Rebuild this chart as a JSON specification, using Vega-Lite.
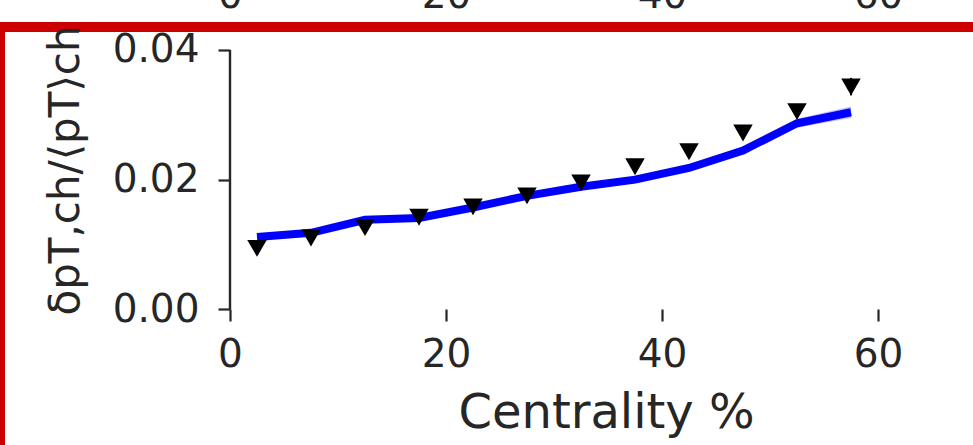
{
  "$schema": "https://vega.github.io/schema/vega-lite/v6.json",
  "width": 980,
  "height": 425,
  "autosize": {"type": "none"},
  "padding": {"left": 0, "top": 27, "right": -7, "bottom": -7},
  "background": "white",
  "config": {
    "view": {"stroke": "#cc0000", "strokeWidth": 10, "fill": "white"},
    "font": "DejaVu Sans",
    "axis": {
      "labelFont": "DejaVu Sans",
      "titleFont": "DejaVu Sans",
      "labelColor": "#262626",
      "titleColor": "#262626",
      "tickColor": "#262626",
      "titleFontWeight": "normal",
      "grid": false,
      "domain": false,
      "labelFlush": false,
      "labelOverlap": false
    }
  },
  "resolve": {"axis": {"x": "independent"}},
  "layer": [
    {
      "data": {
        "values": [
          {"cent": 2.5, "marker": 0.0094, "mlo": 0.0090, "mhi": 0.0098, "model": 0.01115, "lo": 0.01075, "hi": 0.01155},
          {"cent": 7.5, "marker": 0.0110, "mlo": 0.0106, "mhi": 0.0114, "model": 0.0118, "lo": 0.0114, "hi": 0.0122},
          {"cent": 12.5, "marker": 0.0126, "mlo": 0.0122, "mhi": 0.0130, "model": 0.0138, "lo": 0.0134, "hi": 0.0142},
          {"cent": 17.5, "marker": 0.0142, "mlo": 0.0138, "mhi": 0.0146, "model": 0.0141, "lo": 0.0137, "hi": 0.0145},
          {"cent": 22.5, "marker": 0.0158, "mlo": 0.0154, "mhi": 0.0162, "model": 0.0157, "lo": 0.0153, "hi": 0.0161},
          {"cent": 27.5, "marker": 0.0175, "mlo": 0.0171, "mhi": 0.0179, "model": 0.0175, "lo": 0.0171, "hi": 0.0179},
          {"cent": 32.5, "marker": 0.0195, "mlo": 0.0191, "mhi": 0.0199, "model": 0.0189, "lo": 0.0185, "hi": 0.0193},
          {"cent": 37.5, "marker": 0.0220, "mlo": 0.0215, "mhi": 0.0225, "model": 0.0200, "lo": 0.0195, "hi": 0.0205},
          {"cent": 42.5, "marker": 0.0243, "mlo": 0.0238, "mhi": 0.0248, "model": 0.0218, "lo": 0.0213, "hi": 0.0223},
          {"cent": 47.5, "marker": 0.0272, "mlo": 0.0266, "mhi": 0.0278, "model": 0.0245, "lo": 0.0239, "hi": 0.0251},
          {"cent": 52.5, "marker": 0.0305, "mlo": 0.0298, "mhi": 0.0312, "model": 0.0287, "lo": 0.0280, "hi": 0.0294},
          {"cent": 57.5, "marker": 0.0343, "mlo": 0.0330, "mhi": 0.0357, "model": 0.0304, "lo": 0.0295, "hi": 0.0313}
        ]
      },
      "encoding": {
        "x": {
          "field": "cent",
          "type": "quantitative",
          "scale": {"domain": [-21.296, 69.444], "nice": false, "zero": false},
          "axis": {
            "orient": "bottom",
            "offset": -143,
            "values": [0, 20, 40, 60],
            "format": "d",
            "title": "Centrality %",
            "tickSize": 12,
            "tickWidth": 2.2,
            "labelFontSize": 39,
            "labelPadding": 14,
            "titleFontSize": 48,
            "titleX": 606,
            "titleY": 118,
            "titleBaseline": "alphabetic",
            "titleAlign": "center",
            "titleAnchor": null
          }
        }
      },
      "layer": [
        {
          "mark": {"type": "area", "color": "#0000ff", "opacity": 0.25},
          "encoding": {
            "y": {
              "field": "lo",
              "type": "quantitative",
              "scale": {"domain": [-0.022013, 0.043548], "nice": false, "zero": false},
              "axis": {
                "orient": "left",
                "offset": -230,
                "values": [0, 0.02, 0.04],
                "format": ".2f",
                "title": "δpT,ch/⟨pT⟩ch",
                "tickSize": 12,
                "tickWidth": 2.2,
                "labelFontSize": 39,
                "labelPadding": 19,
                "titleFontSize": 42,
                "titleX": -152,
                "titleY": 143,
                "titleAngle": -90,
                "titleBaseline": "alphabetic",
                "titleAlign": "center"
              }
            },
            "y2": {"field": "hi"}
          }
        },
        {
          "mark": {"type": "line", "color": "#0000ff", "strokeWidth": 8},
          "encoding": {
            "y": {
              "field": "model",
              "type": "quantitative",
              "axis": {
                "orient": "left",
                "offset": -230,
                "values": [0, 0.02, 0.04],
                "format": ".2f",
                "title": "δpT,ch/⟨pT⟩ch",
                "tickSize": 12,
                "tickWidth": 2.2,
                "labelFontSize": 39,
                "labelPadding": 19,
                "titleFontSize": 42,
                "titleX": -152,
                "titleY": 143,
                "titleAngle": -90,
                "titleBaseline": "alphabetic",
                "titleAlign": "center"
              }
            }
          }
        },
        {
          "mark": {"type": "rule", "color": "black", "strokeWidth": 2},
          "encoding": {
            "y": {
              "field": "mlo",
              "type": "quantitative",
              "axis": {
                "orient": "left",
                "offset": -230,
                "values": [0, 0.02, 0.04],
                "format": ".2f",
                "title": "δpT,ch/⟨pT⟩ch",
                "tickSize": 12,
                "tickWidth": 2.2,
                "labelFontSize": 39,
                "labelPadding": 19,
                "titleFontSize": 42,
                "titleX": -152,
                "titleY": 143,
                "titleAngle": -90,
                "titleBaseline": "alphabetic",
                "titleAlign": "center"
              }
            },
            "y2": {"field": "mhi"}
          }
        },
        {
          "mark": {"type": "point", "shape": "triangle-down", "filled": true, "color": "black", "size": 380, "opacity": 1},
          "encoding": {
            "y": {
              "field": "marker",
              "type": "quantitative",
              "axis": {
                "orient": "left",
                "offset": -230,
                "values": [0, 0.02, 0.04],
                "format": ".2f",
                "title": "δpT,ch/⟨pT⟩ch",
                "tickSize": 12,
                "tickWidth": 2.2,
                "labelFontSize": 39,
                "labelPadding": 19,
                "titleFontSize": 42,
                "titleX": -152,
                "titleY": 143,
                "titleAngle": -90,
                "titleBaseline": "alphabetic",
                "titleAlign": "center"
              }
            }
          }
        },
        {
          "data": {"values": [{}]},
          "mark": {"type": "rule", "color": "#262626", "strokeWidth": 2.4},
          "encoding": {
            "x": {"datum": 0, "type": "quantitative"},
            "x2": {"datum": 70},
            "y": {
              "datum": 0,
              "type": "quantitative",
              "axis": {
                "orient": "left",
                "offset": -230,
                "values": [0, 0.02, 0.04],
                "format": ".2f",
                "title": "δpT,ch/⟨pT⟩ch",
                "tickSize": 12,
                "tickWidth": 2.2,
                "labelFontSize": 39,
                "labelPadding": 19,
                "titleFontSize": 42,
                "titleX": -152,
                "titleY": 143,
                "titleAngle": -90,
                "titleBaseline": "alphabetic",
                "titleAlign": "center"
              }
            }
          }
        }
      ]
    },
    {
      "data": {"values": [{}]},
      "mark": {"type": "rule", "color": "#262626", "strokeWidth": 2.4},
      "encoding": {
        "x": {
          "datum": 0,
          "type": "quantitative",
          "scale": {"domain": [-21.296, 69.444], "nice": false, "zero": false},
          "axis": {
            "orient": "top",
            "offset": 0,
            "values": [0, 20, 40, 60],
            "format": "d",
            "title": null,
            "ticks": false,
            "tickSize": 0,
            "labelFontSize": 39,
            "labelPadding": 12
          }
        },
        "y": {
          "datum": 0,
          "type": "quantitative",
          "axis": {
            "orient": "left",
            "offset": -230,
            "values": [0, 0.02, 0.04],
            "format": ".2f",
            "title": "δpT,ch/⟨pT⟩ch",
            "tickSize": 12,
            "tickWidth": 2.2,
            "labelFontSize": 39,
            "labelPadding": 19,
            "titleFontSize": 42,
            "titleX": -152,
            "titleY": 143,
            "titleAngle": -90,
            "titleBaseline": "alphabetic",
            "titleAlign": "center"
          }
        },
        "y2": {"datum": 0.04}
      }
    }
  ]
}
